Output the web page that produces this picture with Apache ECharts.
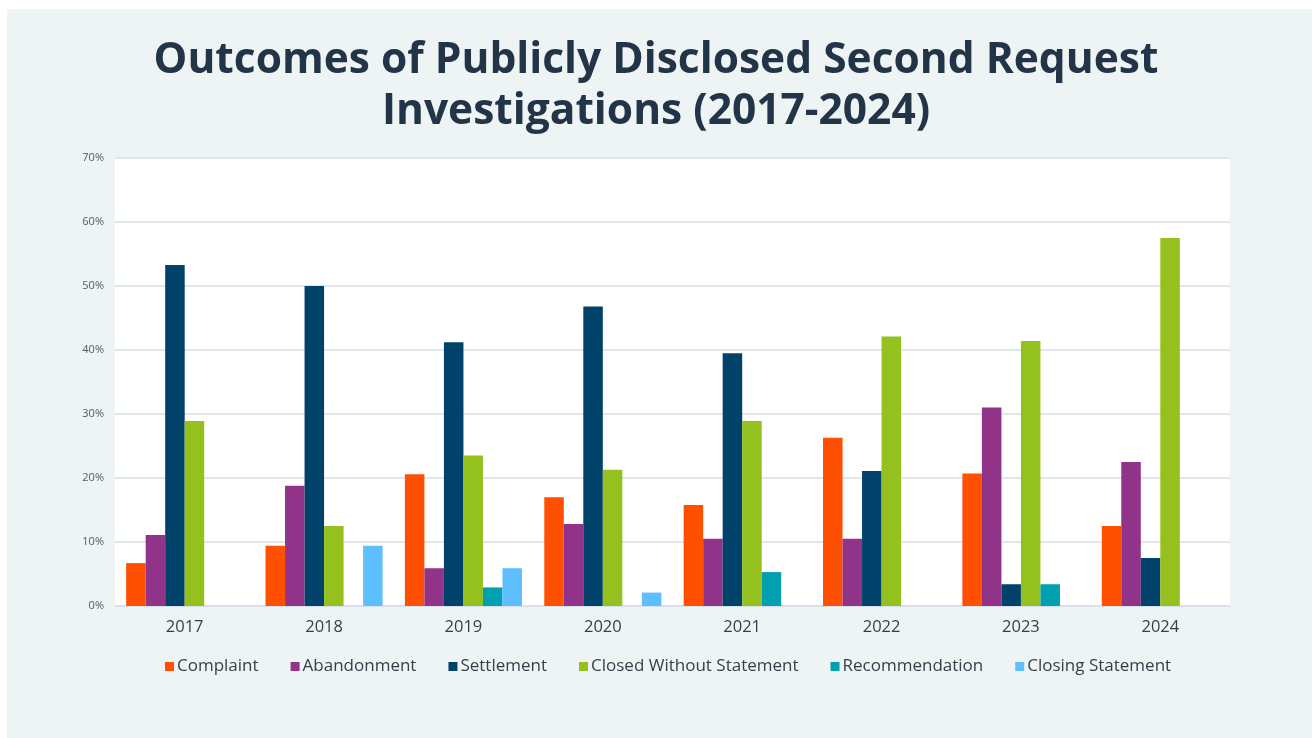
<!DOCTYPE html>
<html><head><meta charset="utf-8">
<script src="https://cdn.jsdelivr.net/npm/echarts@6/dist/echarts.min.js"></script>
<style>html,body{margin:0;padding:0;background:#fff}#c{width:1312px;height:738px}</style>
</head><body><div id="c"></div>
<script>
const years = ['2017','2018','2019','2020','2021','2022','2023','2024'];
const complaint = [6.7, 9.4, 20.6, 17.0, 15.8, 26.3, 20.7, 12.5];
const abandonment = [11.1, 18.8, 5.9, 12.8, 10.5, 10.5, 31.0, 22.5];
const settlement = [53.3, 50.0, 41.2, 46.8, 39.5, 21.1, 3.4, 7.5];
const closedWithout = [28.9, 12.5, 23.5, 21.3, 28.9, 42.1, 41.4, 57.5];
const recommendation = [0, 0, 2.9, 0, 5.3, 0, 3.4, 0];
const closingStatement = [0, 9.4, 5.9, 2.1, 0, 0, 0, 0];
const yTicks = [0, 10, 20, 30, 40, 50, 60, 70];

const seriesDefs = [
  ['Complaint', complaint, '#ff4f00'],
  ['Abandonment', abandonment, '#92338a'],
  ['Settlement', settlement, '#00426a'],
  ['Closed Without Statement', closedWithout, '#95c11f'],
  ['Recommendation', recommendation, '#00a0b0'],
  ['Closing Statement', closingStatement, '#5ebfff']
];

const chart = echarts.init(document.getElementById('c'));
chart.setOption({
  backgroundColor: '#ffffff',
  animation: false,
  graphic: [{type:'rect', left:7, top:9, shape:{width:1312, height:738}, style:{fill:'#eef4f4'}, z:-10}],
  title: {
    text: 'Outcomes of Publicly Disclosed Second Request\nInvestigations (2017-2024)',
    left: 'center', top: 30,
    textStyle: {fontFamily:'Open Sans', fontWeight:'bold', fontSize:42.5, lineHeight:51, color:'#223448'}
  },
  legend: {
    bottom: 58, left: 160, itemWidth: 9, itemHeight: 9, itemGap: 32,
    icon: 'rect',
    textStyle: {fontFamily:'Open Sans', fontSize:17, color:'#333f4a', padding:[0,0,0,-2]},
    data: seriesDefs.map(d => d[0])
  },
  grid: {left:115, right:82, top:158, bottom:132, show:true, backgroundColor:'#ffffff', borderWidth:0},
  xAxis: {
    type:'category', data: years,
    axisLine:{lineStyle:{color:'#d6e0ea', width:1.5}},
    axisTick:{show:false},
    axisLabel:{fontFamily:'Open Sans', fontSize:16.5, color:'#333f4a', margin:13}
  },
  yAxis: {
    type:'value', min:0, max:70, interval:10,
    axisLine:{show:false}, axisTick:{show:false},
    axisLabel:{fontFamily:'Open Sans', fontSize:11, color:'#505a64', formatter: v => yTicks.includes(v) ? v + '%' : '', margin:11},
    splitLine:{lineStyle:{color:'#d6e0ea', width:1.5}}
  },
  series: seriesDefs.map(d => ({
    name: d[0], type:'bar', data: d[1],
    barGap: '0%', barCategoryGap: '16%',
    itemStyle: {color: d[2]}
  }))
});
</script></body></html>
